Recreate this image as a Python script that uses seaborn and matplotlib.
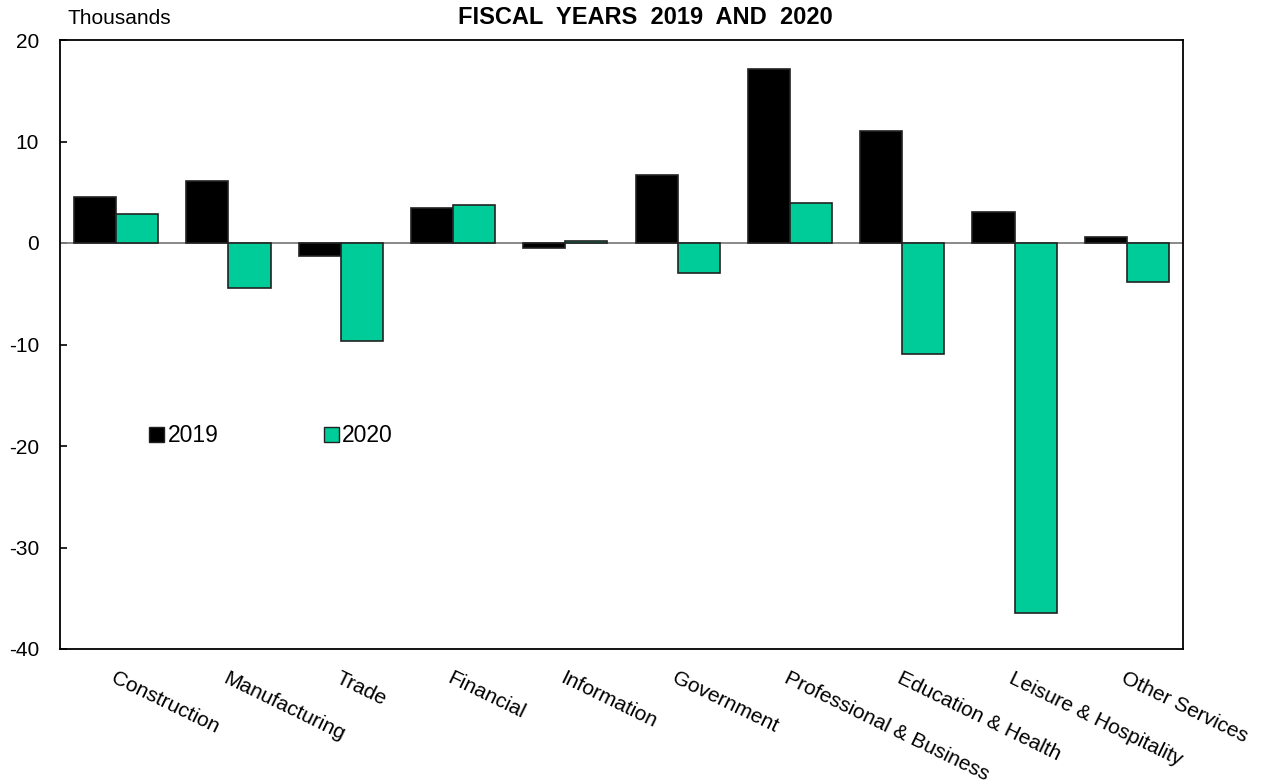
import matplotlib
matplotlib.use("Agg")
import matplotlib.pyplot as plt
import seaborn as sns
import pandas as pd

categories = ["Construction", "Manufacturing", "Trade", "Financial", "Information",
              "Government", "Professional & Business", "Education & Health",
              "Leisure & Hospitality", "Other Services"]
values_2019 = [4.5, 6.1, -1.3, 3.4, -0.5, 6.7, 17.1, 11.0, 3.1, 0.6]
values_2020 = [2.9, -4.4, -9.7, 3.7, 0.2, -3.0, 3.9, -10.9, -36.5, -3.8]
series = ["2019", "2020"]
colors = ["#000000", "#00CC99"]
yticks = [-40, -30, -20, -10, 0, 10, 20]

df = pd.DataFrame({
    "Industry": categories * 2,
    "Year": [series[0]] * len(categories) + [series[1]] * len(categories),
    "Value": values_2019 + values_2020,
})

sns.set_style("white")
plt.rcParams["font.family"] = ["Liberation Sans", "DejaVu Sans"]
plt.rcParams["text.color"] = "black"
plt.rcParams["xtick.color"] = "black"
plt.rcParams["ytick.color"] = "black"
plt.rcParams["axes.labelcolor"] = "black"

fig = plt.figure(figsize=(12.68, 7.84), dpi=100)
ax = fig.add_axes([60/1268, 1-649/784, (1183-60)/1268, (649-40)/784])

sns.barplot(data=df, x="Industry", y="Value", hue="Year", order=categories,
            hue_order=series, palette=colors, width=0.75, saturation=1,
            edgecolor="#222222", linewidth=1.2, ax=ax, zorder=3)

ax.axhline(0, color="#808080", lw=1.3, zorder=2)
ax.set_ylim(-40, 20)
ax.set_xlim(-0.5, len(categories) - 0.5)
ax.set_yticks(yticks)
ax.set_yticklabels([str(t) for t in yticks], fontsize=15)
ax.tick_params(axis="y", direction="in", length=5, width=1.2, pad=15, left=True,
               labelcolor="black")
ax.tick_params(axis="x", length=0, pad=14, labelcolor="black")
ax.set_xticks(range(len(categories)))
ax.set_xticklabels(categories, rotation=-26, ha="left", va="top",
                   rotation_mode="anchor", fontsize=15)
ax.set_xlabel("")
ax.set_ylabel("")
for s in ax.spines.values():
    s.set_visible(True)
    s.set_color("black")
    s.set_linewidth(1.3)

leg = ax.legend(loc="center", bbox_to_anchor=(0.188, 0.35), ncol=2, frameon=False,
                fontsize=16.5, handlelength=0.65, handleheight=0.65, handletextpad=0.15,
                columnspacing=4.6)
for h in leg.legend_handles:
    h.set_edgecolor("#222222")
    h.set_linewidth(1.0)
for t in leg.get_texts():
    t.set_color("black")

fig.text(645/1268, 1-18/784, "FISCAL  YEARS  2019  AND  2020", ha="center", va="center",
         fontsize=17, fontweight="bold", color="black")
fig.text(68/1268, 1-18/784, "Thousands", ha="left", va="center", fontsize=15,
         color="black")

fig.savefig("out.png", dpi=100, facecolor="white")
